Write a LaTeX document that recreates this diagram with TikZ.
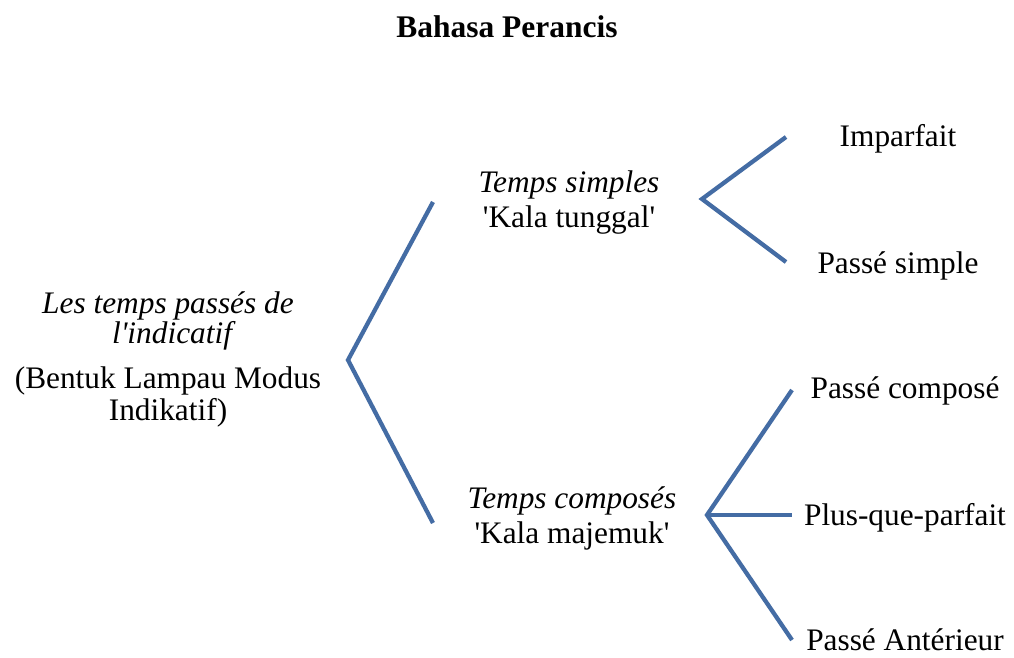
\documentclass[tikz,border=0pt]{standalone}
\usepackage{fontspec}
\setmainfont{Liberation Serif}
\definecolor{forkblue}{RGB}{68,108,164}
\begin{document}
\begin{tikzpicture}[x=0.75pt,y=-0.75pt,
  lbl/.style={anchor=base,inner sep=0pt,font=\fontsize{23.5}{28}\selectfont},
  ilbl/.style={lbl,font=\fontsize{23.5}{28}\selectfont\itshape},
  ttl/.style={anchor=base,inner sep=0pt,font=\fontsize{23.6}{28}\selectfont\bfseries},
  fork/.style={draw=forkblue,line width=3.2pt,line join=miter}]
\useasboundingbox[fill=white] (0,0) rectangle (1014,657);
% title
\node[ttl] (title) at (507,37) {Bahasa Perancis};
% root
\node[ilbl] (r1) at (168,313) {Les temps passés de};
\node[ilbl] (r2) at (172,343) {l\textquotesingle indicatif};
\node[lbl] (r3) at (168,388) {(Bentuk Lampau Modus};
\node[lbl] (r4) at (168,420) {Indikatif)};
% middle
\node[ilbl] (s1) at (569,192) {Temps simples};
\node[lbl] (s2) at (569,227) {\textquotesingle Kala tunggal\textquotesingle};
\node[ilbl] (c1) at (572,508) {Temps composés};
\node[lbl] (c2) at (572,543) {\textquotesingle Kala majemuk\textquotesingle};
% leaves
\node[lbl] (l1) at (898,146) {Imparfait};
\node[lbl] (l2) at (898,273) {Passé simple};
\node[lbl] (l3) at (905,398) {Passé composé};
\node[lbl] (l4) at (905,525) {Plus-que-parfait};
\node[lbl] (l5) at (905,650) {Passé Antérieur};
% fork coordinates
\coordinate (v0) at (348,360);
\coordinate (v0a) at (433,202);
\coordinate (v0b) at (433,523);
\coordinate (v1) at (702,199);
\coordinate (v1a) at (786,137);
\coordinate (v1b) at (786,262);
\coordinate (v2) at (707,515);
\coordinate (v2a) at (792,390);
\coordinate (v2b) at (792,515);
\coordinate (v2c) at (792,640);
\draw[fork] (v0a) -- (v0) -- (v0b);
\draw[fork] (v1a) -- (v1) -- (v1b);
\draw[fork] (v2a) -- (v2) -- (v2c);
\draw[fork] (v2) -- (v2b);
\end{tikzpicture}
\end{document}
